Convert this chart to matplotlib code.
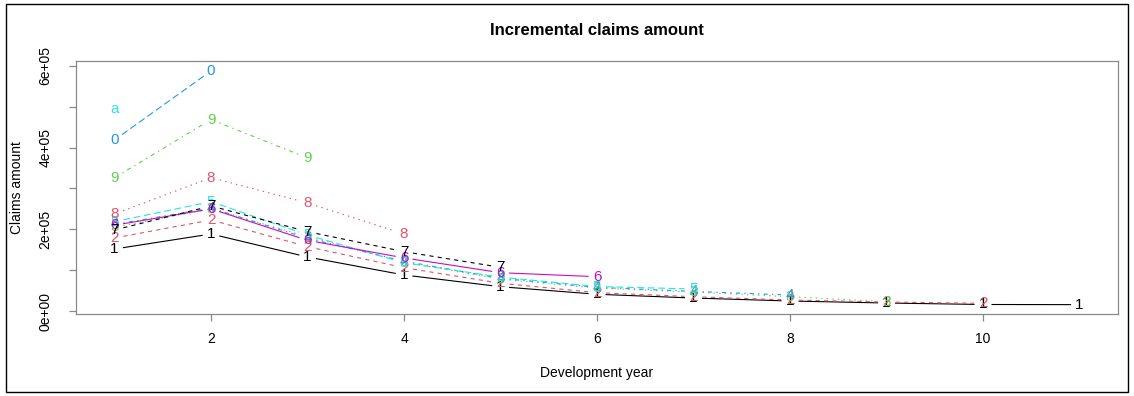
import numpy as np
import matplotlib.pyplot as plt
from matplotlib.patches import Rectangle

plt.rcParams['font.family'] = ['Liberation Sans', 'DejaVu Sans']
plt.rcParams['lines.scale_dashes'] = False

# incremental claims per origin year (rows) by development year
dev_years = np.arange(1, 12)
s1 = [151800, 188600, 132200, 88200, 59500, 41000, 31800, 24500, 19600, 16000, 15600]
s2 = [178800, 222900, 157500, 106000, 68000, 45000, 35000, 27000, 22000, 18900]
s3 = [205000, 250000, 182000, 120000, 78000, 56000, 46500, 35000, 22800]
s4 = [212000, 252000, 178000, 122000, 80000, 58000, 48000, 39200]
s5 = [218700, 267700, 186000, 118000, 83000, 60000, 53900]
s6 = [210000, 250000, 173000, 130000, 93800, 84000]
s7 = [198400, 257100, 194200, 145300, 107000]
s8 = [237500, 326500, 264500, 188600]
s9 = [326500, 468500, 374700]
s10 = [418800, 587800]
s11 = [494700]
series = [s1, s2, s3, s4, s5, s6, s7, s8, s9, s10, s11]
symbols = ['1', '2', '3', '4', '5', '6', '7', '8', '9', '0', 'a']

# R default palette and line types, recycled like matplot
palette = ['black', '#DF536B', '#61D04F', '#2297E6', '#28E2E5', '#CD0BBC']
ltys = [(None), (3, 3), (1, 3), (1, 3, 3, 3), (5, 2.5), (1.5, 1.5, 4.5, 1.5)]
lty_cycle = [0, 1, 2, 3, 4]

fig = plt.figure(figsize=(11.34, 3.96), dpi=100)
ax = fig.add_axes([0.067, 0.207, 0.919, 0.639])
ax.set_xlim(0.6, 11.4)
ax.set_ylim(-7350, 612000)

gap = 9  # pixels left empty around each symbol
for i, vals in enumerate(series):
    col = palette[i % 6]
    lt = ltys[lty_cycle[i % 5]]
    x = dev_years[:len(vals)]
    y = np.array(vals, dtype=float)
    pts = ax.transData.transform(np.column_stack([x, y]))
    for j in range(len(pts) - 1):
        p0, p1 = pts[j], pts[j + 1]
        d = p1 - p0
        n = np.hypot(*d)
        if n <= 2 * gap:
            continue
        a = p0 + d * gap / n
        b = p1 - d * gap / n
        seg = ax.transData.inverted().transform(np.array([a, b]))
        line, = ax.plot(seg[:, 0], seg[:, 1], color=col, lw=0.8)
        if lt is not None:
            line.set_dashes(lt)
    for xi, yi in zip(x, y):
        ax.text(xi, yi, symbols[i], color=col, fontsize=11,
                ha='center', va='center')

ax.set_xticks([2, 4, 6, 8, 10])
ax.set_yticks(np.arange(0, 600001, 100000))
ax.set_yticklabels(['0e+00', '', '2e+05', '', '4e+05', '', '6e+05'],
                   rotation=90, va='center')
ax.tick_params(labelsize=10, length=5, color='#888888', width=0.9)
ax.tick_params(axis='y', pad=12)
ax.tick_params(axis='x', pad=8)
for sp in ax.spines.values():
    sp.set_color('#888888')
    sp.set_linewidth(0.9)

ax.set_title('Incremental claims amount', fontsize=12, fontweight='bold', pad=19)
ax.set_xlabel('Development year', fontsize=10, labelpad=14)
ax.set_ylabel('Claims amount', fontsize=10, labelpad=10)

# frame around the whole graphic
fig.patches.append(Rectangle((0.005, 0.01), 0.99, 0.98, transform=fig.transFigure,
                             fill=False, edgecolor='black', lw=1.0))

fig.savefig('out.png', dpi=100)
